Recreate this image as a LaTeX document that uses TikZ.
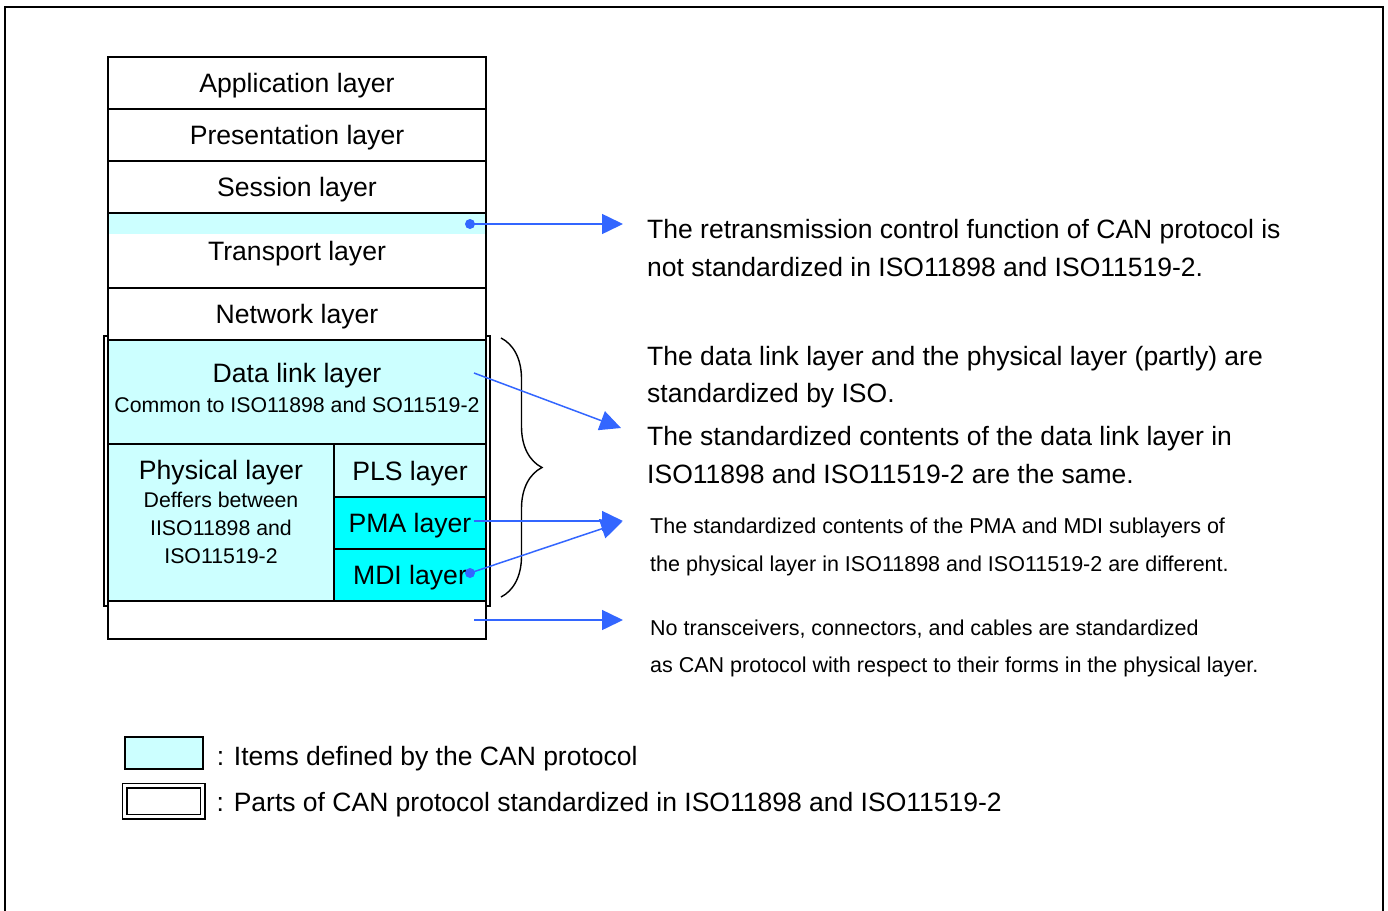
\documentclass[tikz,border=0pt]{standalone}
\usepackage{fontspec}
\setmainfont{Liberation Sans}
\usetikzlibrary{positioning,arrows.meta,decorations.pathreplacing}
\definecolor{lcyan}{HTML}{CCFFFF}
\definecolor{dcyan}{HTML}{00FFFF}
\definecolor{arrblue}{HTML}{3366FF}
\newcommand{\fsz}[1]{\fontsize{#1}{1.4\dimexpr#1pt\relax}\selectfont}
\tikzset{
  layer/.style={draw, line width=1.6pt, fill=white, minimum width=378pt, minimum height=52pt,
    inner sep=0pt, outer sep=0pt, font=\fsz{26.6}, align=center, text depth=0pt},
  note/.style={anchor=west, inner sep=0pt, align=left, font=\fsz{26.5}},
  smallnote/.style={anchor=west, inner sep=0pt, align=left, font=\fsz{21.5}},
  link/.style={arrblue, line width=1.5pt, -{Triangle[length=21pt,width=20pt]}},
  dot/.style={circle, fill=arrblue, inner sep=0pt, minimum size=10pt},
}
\begin{document}
\begin{tikzpicture}[x=1pt,y=-1pt]
  \useasboundingbox (0,0) rectangle (1388,910);
  \draw[line width=2.5pt] (5,915) -- (5,7) -- (1383,7) -- (1383,915); % frame

  % double line round the ISO part
  \draw[line width=1.2pt] (104,336) rectangle (490,606);

  % OSI stack
  \node[layer, anchor=north west] (app) at (108,57) {Application layer};
  \node[layer, below=0pt of app] (pres) {Presentation layer};
  \node[layer, below=0pt of pres] (sess) {Session layer};
  \node[layer, below=0pt of sess, minimum height=75pt,
    path picture={\fill[lcyan] (path picture bounding box.north west)
      rectangle ([yshift=-21pt]path picture bounding box.north east);}] (trans) {Transport layer};
  \node[layer, below=0pt of trans] (net) {Network layer};
  \node[layer, below=0pt of net, fill=lcyan, minimum height=104pt, text depth=8pt] (dll)
    {Data link layer\\[-7pt]{\fsz{21.3}Common to ISO11898 and SO11519-2}};
  \node[layer, anchor=north west, fill=lcyan, minimum width=226pt, minimum height=157pt] (phys) at (dll.south west) {};
  \node[anchor=north, align=center, inner sep=0pt, font=\fsz{26.6}] (physlbl) at ([yshift=-16pt]phys.north)
    {Physical layer\\[1pt]{\fsz{21.3}\begin{tabular}{@{}c@{}}Deffers between\\[-2pt]IISO11898 and\\[-2pt]ISO11519-2\end{tabular}}};
  \node[layer, anchor=north west, fill=lcyan, minimum width=152pt, minimum height=53pt] (pls) at (phys.north east) {PLS layer};
  \node[layer, below=0pt of pls, fill=dcyan, minimum width=152pt] (pma) {PMA layer};
  \node[layer, below=0pt of pma, fill=dcyan, minimum width=152pt] (mdi) {MDI layer};
  \node[layer, anchor=north west, minimum height=38pt] (bot) at (phys.south west) {};

  % brace
  \draw[line width=1.4pt, decorate, decoration={brace, amplitude=41pt, aspect=0.5}] (501,338) -- (501,597);

  % notes
  \node[note] (n1) at (647,248) {The retransmission control function of CAN protocol is\\not standardized in ISO11898 and ISO11519-2.};
  \node[note] (n2) at (647,377) {The data link layer and the physical layer (partly) are\\standardized by ISO.};
  \node[note] (n3) at (647,455) {The standardized contents of the data link layer in\\ISO11898 and ISO11519-2 are the same.};
  \node[smallnote] (n4) at (650,547) {The standardized contents of the PMA and MDI sublayers of\\[8pt]the physical layer in ISO11898 and ISO11519-2 are different.};
  \node[smallnote] (n5) at (650,648) {No transceivers, connectors, and cables are standardized\\[7pt]as CAN protocol with respect to their forms in the physical layer.};

  % arrow ends
  \coordinate (s1) at (470,224);
  \coordinate (e1) at (623,224);
  \coordinate (s2) at (474,373);
  \coordinate (e2) at (621,428);
  \coordinate (s3) at (474,521);
  \coordinate (e3) at (623,521);
  \coordinate (s4) at (470,573);
  \coordinate (e4) at (622,522);
  \coordinate (s5) at (474,620);
  \coordinate (e5) at (623,620);

  \node[dot] at (s1) {};
  \node[dot] at (s4) {};
  \draw[link] (s1) -- (e1);
  \draw[link] (s2) -- (e2);
  \draw[link] (s3) -- (e3);
  \draw[link] (s4) -- (e4);
  \draw[link] (s5) -- (e5);

  % legend
  \node[draw, line width=1.6pt, fill=lcyan, minimum width=78pt, minimum height=32pt, anchor=north west] (key1) at (124,736) {};
  \node[draw, line width=1.4pt, minimum width=78pt, minimum height=31pt, anchor=north west,
    double, double distance=3pt] (key2) at (124,785) {};
  \node[anchor=west, inner sep=0pt, font=\fsz{26.5}, right=13pt of key1, yshift=-6pt] (lab1) {: Items defined by the CAN protocol};
  \node[anchor=west, inner sep=0pt, font=\fsz{26.5}, right=13pt of key2, yshift=-3pt] (lab2) {: Parts of CAN protocol standardized in ISO11898 and ISO11519-2};
\end{tikzpicture}
\end{document}
